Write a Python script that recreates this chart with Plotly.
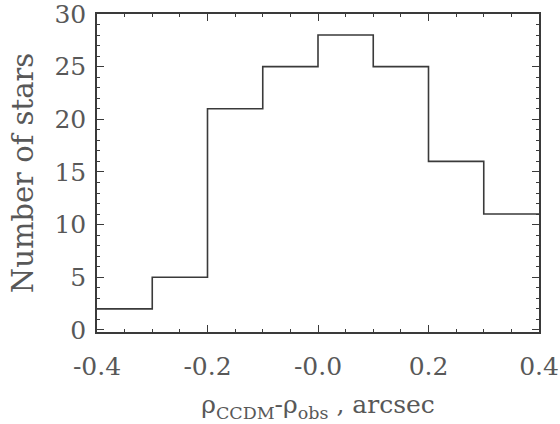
import plotly.graph_objects as go

# Histogram of separation residuals
bin_edges = [-0.4, -0.3, -0.2, -0.1, 0.0, 0.1, 0.2, 0.3, 0.4]
counts = [2, 5, 21, 25, 28, 25, 16, 11]

x_tickvals = [-0.4, -0.2, 0.0, 0.2, 0.4]
x_ticktext = ["-0.4", "-0.2", "-0.0", "0.2", "0.4"]
y_tickvals = [0, 5, 10, 15, 20, 25, 30]

ink = "#3a3a3a"
label_col = "#585858"
font_family = "DejaVu Serif, Liberation Serif, serif"

fig = go.Figure()
fig.add_trace(go.Scatter(
    x=bin_edges,
    y=counts + [counts[-1]],
    mode="lines",
    line=dict(shape="hv", color=ink, width=1.6),
    hoverinfo="skip",
    showlegend=False,
))

axis_common = dict(
    showline=True, linecolor=ink, linewidth=1.6, mirror="ticks",
    ticks="inside", tickcolor=ink, tickwidth=1.2, ticklen=7,
    showgrid=False, zeroline=False, automargin=False,
    ticklabeloverflow="allow",
    tickfont=dict(family=font_family, size=25, color=label_col),
)

fig.update_layout(
    width=560, height=424,
    margin=dict(l=97, r=21, t=14, b=92),
    paper_bgcolor="white", plot_bgcolor="white",
    xaxis=dict(
        range=[-0.4, 0.4], tickvals=x_tickvals, ticktext=x_ticktext,
        minor=dict(dtick=0.05, ticks="inside", ticklen=3, tickcolor=ink, tickwidth=1),
        title=dict(text="ρ<sub>CCDM</sub>-ρ<sub>obs</sub> , arcsec",
                   font=dict(family=font_family, size=25, color=label_col), standoff=16),
        ticklabelstandoff=11,
        **axis_common,
    ),
    yaxis=dict(
        range=[-0.2, 30], tickvals=y_tickvals,
        minor=dict(dtick=1, ticks="inside", ticklen=3, tickcolor=ink, tickwidth=1),
        title=dict(text="Number of stars",
                   font=dict(family=font_family, size=29, color=label_col), standoff=12),
        ticklabelstandoff=4,
        **axis_common,
    ),
)

fig.write_html("out.html")
